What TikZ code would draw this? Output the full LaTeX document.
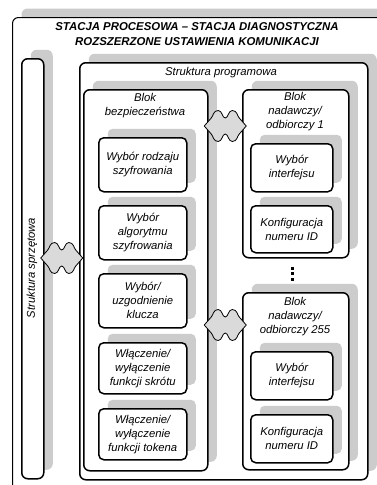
\documentclass[tikz,border=0pt]{standalone}
\usepackage{fontspec}
\setmainfont{Liberation Sans}
\usetikzlibrary{shadows,calc}
\definecolor{shadowgray}{HTML}{CCCCCC}
\definecolor{linkgray}{HTML}{DADADA}
\tikzset{
  shadowed/.style={drop shadow={shadow xshift=9pt, shadow yshift=9pt, opacity=1, fill=shadowgray}},
  bigbox/.style={draw=black, line width=1.5pt, fill=white, rounded corners=6pt, inner sep=0pt, anchor=north west, shadowed},
  outerbox/.style={bigbox, line width=1pt},
  txt/.style={font=\itshape\fontsize{11.3}{14}\selectfont, align=center, inner sep=0pt},
  inbox/.style={bigbox, rounded corners=5pt, txt},
  titletxt/.style={font=\bfseries\itshape\fontsize{11.4}{15}\selectfont, align=center, inner sep=0pt},
  link/.pic={
    \draw[fill=linkgray, line width=0.8pt, line join=round]
      (-21,0) -- (-14,-8) .. controls (-12,-10) and (-12,-15.5) .. (-7,-15.5)
      .. controls (-3,-15.5) and (-3,-8) .. (0,-8)
      .. controls (3,-8) and (3,-15.5) .. (7,-15.5)
      .. controls (12,-15.5) and (12,-10) .. (14,-8)
      -- (21,0) -- (14,8) .. controls (12,10) and (12,15.5) .. (7,15.5)
      .. controls (3,15.5) and (3,8) .. (0,8)
      .. controls (-3,8) and (-3,15.5) .. (-7,15.5)
      .. controls (-12,15.5) and (-12,10) .. (-14,8) -- cycle;
  },
  dotsq/.style={fill=black, minimum size=3pt, inner sep=0pt}
}
\begin{document}
\begin{tikzpicture}[x=1pt,y=-1pt]
\useasboundingbox (0,0) rectangle (377,485);
\clip (0,0) rectangle (377,485);
\fill[white] (0,0) rectangle (377,485);
% outer frame
\node[outerbox, minimum width=420pt, minimum height=520pt] (outer) at (12,17) {};
\node[titletxt] (title) at (197,34.5) {STACJA PROCESOWA – STACJA DIAGNOSTYCZNA\\ROZSZERZONE USTAWIENIA KOMUNIKACJI};
% hardware structure
\node[bigbox, minimum width=22pt, minimum height=420pt] (sprz) at (21,58) {};
\node[txt, rotate=90] (sprzlbl) at (32,268) {Struktura sprzętowa};
% software structure
\node[bigbox, minimum width=288pt, minimum height=417pt] (prog) at (79,62) {};
\node[txt] (proglbl) at (221,73) {Struktura programowa};
% security block
\node[bigbox, minimum width=124pt, minimum height=381pt] (bezp) at (83,89) {};
\node[txt] (bezplbl) at (145,106) {Blok\\bezpieczeństwa};
\node[inbox, minimum width=88pt, minimum height=54pt] (b1) at (98,137) {Wybór rodzaju\\szyfrowania};
\node[inbox, minimum width=88pt, minimum height=54pt] (b2) at (98,205) {Wybór\\algorytmu\\szyfrowania};
\node[inbox, minimum width=88pt, minimum height=54pt] (b3) at (98,273) {Wybór/\\uzgodnienie\\klucza};
\node[inbox, minimum width=88pt, minimum height=51pt] (b4) at (98,342) {Włączenie/\\wyłączenie\\funkcji skrótu};
\node[inbox, minimum width=88pt, minimum height=51pt] (b5) at (98,408) {Włączenie/\\wyłączenie\\funkcji tokena};
% transmit/receive block 1
\node[bigbox, minimum width=106pt, minimum height=168pt] (nad1) at (242,89) {};
\node[txt] (nad1lbl) at (295,112) {Blok\\nadawczy/\\odbiorczy 1};
\node[inbox, minimum width=82pt, minimum height=48pt] (n1a) at (250,143) {Wybór\\interfejsu};
\node[inbox, minimum width=82pt, minimum height=47pt] (n1b) at (250,205) {Konfiguracja\\numeru ID};
% dots
\node[dotsq] (d1) at (292,268) {};
\node[dotsq] (d2) at (292,273.5) {};
\node[dotsq] (d3) at (292,279) {};
% transmit/receive block 255
\node[bigbox, minimum width=106pt, minimum height=177pt] (nad255) at (242,292) {};
\node[txt] (nad255lbl) at (295,317) {Blok\\nadawczy/\\odbiorczy 255};
\node[inbox, minimum width=82pt, minimum height=48pt] (n2a) at (250,351) {Wybór\\interfejsu};
\node[inbox, minimum width=82pt, minimum height=48pt] (n2b) at (250,414) {Konfiguracja\\numeru ID};
% interface connectors
\coordinate (m0) at ($(sprz.east)!0.5!(prog.west)$);
\coordinate (m1) at ($(bezp.east)!0.5!(nad1.west)$);
\pic at (m0 |- 0,258) {link};
\pic at (m1 |- 0,126) {link};
\pic at (m1 |- 0,325) {link};
\end{tikzpicture}
\end{document}
